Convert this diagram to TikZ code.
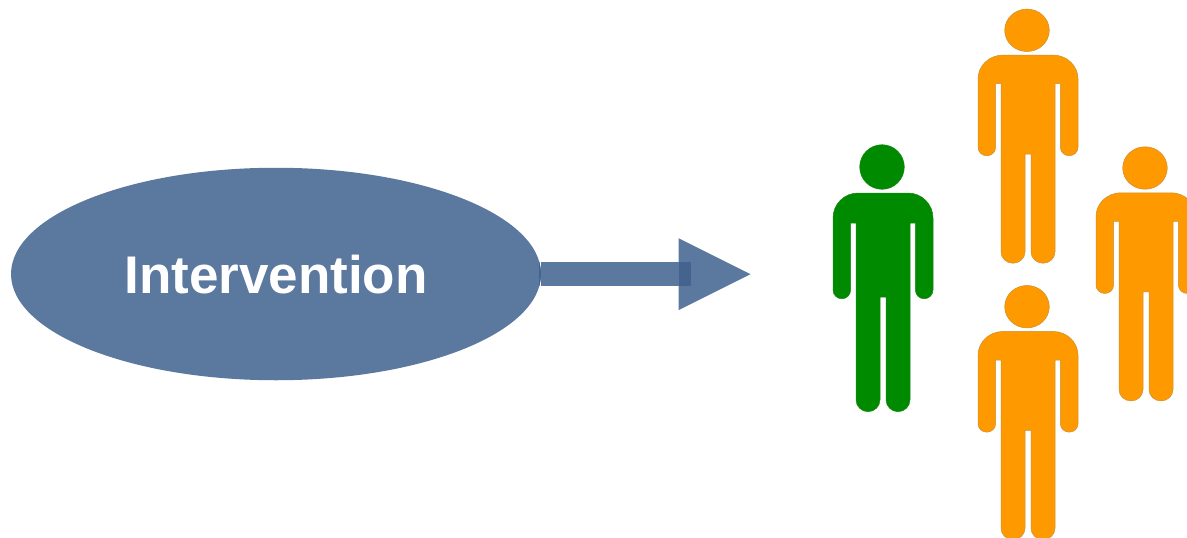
\documentclass[tikz,border=0pt]{standalone}
\usepackage{fontspec}
\setmainfont{Liberation Sans}
\usetikzlibrary{shapes.geometric}
\definecolor{ellblue}{HTML}{5B789F}
\definecolor{overlapblue}{HTML}{44648F}
\definecolor{pgreen}{HTML}{008A00}
\definecolor{porange}{HTML}{FF9900}
\tikzset{
  ovalnode/.style={ellipse,fill=ellblue,minimum width=530pt,minimum height=212.5pt,inner sep=0pt},
  ovallabel/.style={text=white,font=\bfseries\fontsize{53pt}{60pt}\selectfont,inner sep=0pt,anchor=base},
  shaftline/.style={draw=ellblue,line width=24.4pt},
  personedge/.style={draw=#1,line width=.5pt},
}
\newcommand{\personshape}[5]{%
\begin{scope}[shift={(#1,#2)},yscale=#3]
\path[fill=#4,personedge=#5] (-1,0) circle (22.3);
\path[fill=#4,personedge=#5]
 (-25,26) -- (25,26) arc (-90:0:25) -- (50,123) arc (0:180:8.8) -- (32.4,56) -- (27,56) -- (27,232.7)
 arc (0:180:12) -- (3,130) -- (-3,130) -- (-3,232.7) arc (0:180:12) -- (-27,56) -- (-32.4,56) -- (-32.4,123)
 arc (0:180:8.8) -- (-50,51) arc (180:270:25) -- cycle;
\end{scope}}
\begin{document}
\begin{tikzpicture}[x=1pt,y=-1pt]
\useasboundingbox (0,0) rectangle (1187,538);
\node[ovalnode] (oval) at (276,274) {};
\node[ovallabel] (label) at (276,293) {Intervention};
\coordinate (shaftend) at (691,274);
\draw[shaftline] (oval.east) -- (shaftend);
\fill[ellblue] (678.5,238.2) -- (750.5,274.2) -- (678.5,310.2) -- cycle;
\fill[overlapblue] (678.5,261.8) rectangle (691,286.2);
\begin{scope}
\clip (276,274) ellipse (265 and 106.25);
\fill[overlapblue] (538.5,261.8) rectangle (543,286.2);
\end{scope}
\personshape{883}{167}{1}{pgreen}{pgreen!80!gray}
\personshape{1028}{30.3}{.952}{porange}{porange!60!gray}
\personshape{1146}{168}{.952}{porange}{porange!60!gray}
\personshape{1028}{306.7}{.952}{porange}{porange!60!gray}
\end{tikzpicture}
\end{document}
